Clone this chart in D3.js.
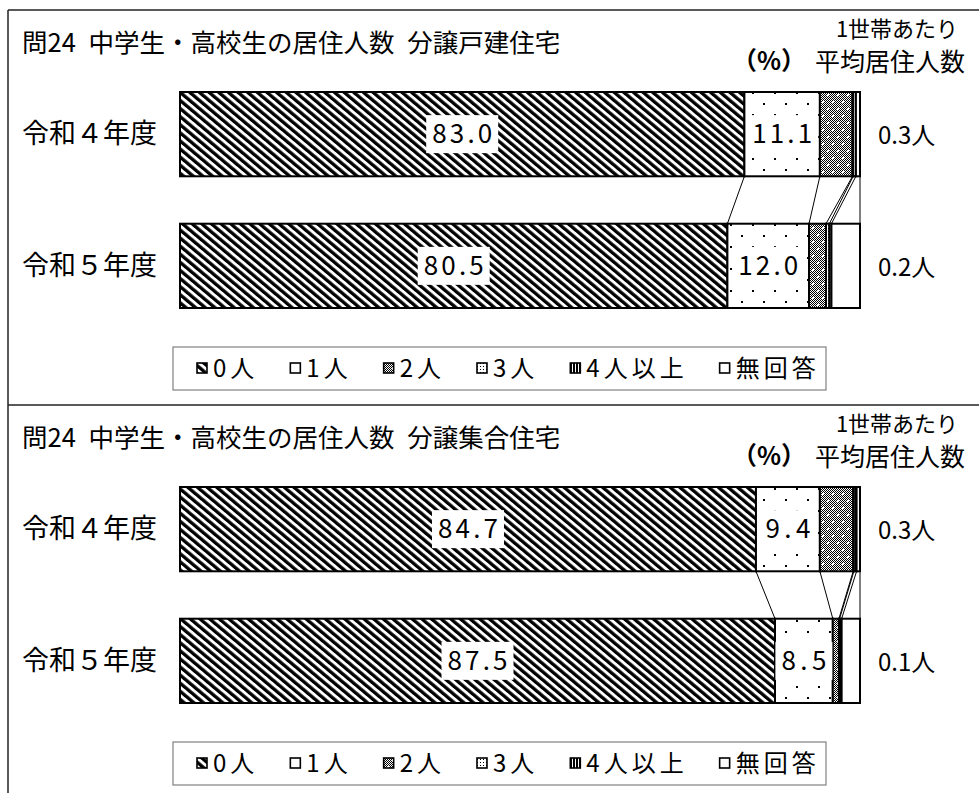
<!DOCTYPE html>
<html><head><meta charset="utf-8">
<script src="https://cdn.jsdelivr.net/npm/d3@7"></script>
<style>
body{margin:0;background:#fff}
svg{display:block}
text{font-family:"Noto Sans CJK JP","Noto Sans",sans-serif;fill:#000}
</style>
</head><body>
<svg id="c" width="979" height="793"></svg>
<script>
// ---- data ----
const categories = ["令和４年度", "令和５年度"];
const seriesNames = ["0人", "1人", "2人", "3人", "4人以上", "無回答"];
const titles = ["問24\u2002中学生・高校生の居住人数\u2002分譲戸建住宅", "問24\u2002中学生・高校生の居住人数\u2002分譲集合住宅"];
const detachedR4 = [83.0, 11.1, 4.8, 0.1, 0.4, 0.6];
const detachedR5 = [80.5, 12.0, 2.5, 0.5, 0.3, 4.2];
const condoR4 = [84.7, 9.4, 4.9, 0.1, 0.4, 0.5];
const condoR5 = [87.5, 8.5, 0.9, 0.1, 0.3, 2.7];
const detachedAvg = ["0.3人", "0.2人"];
const condoAvg = ["0.3人", "0.1人"];
const labelledSeries = [0, 1];

const svg = d3.select("#c");
const defs = svg.append("defs");

// patterns
const pat = (id, w, h, extra) => {
  const p = defs.append("pattern").attr("id", id).attr("patternUnits", "userSpaceOnUse")
    .attr("width", w).attr("height", h);
  if (extra) p.attr("patternTransform", extra);
  return p;
};
let p0 = pat("p0", 6.2, 10, "rotate(-50)");
p0.append("rect").attr("width", 6.2).attr("height", 10).attr("fill", "#fff");
p0.append("rect").attr("width", 3.3).attr("height", 10).attr("fill", "#000");

let p1 = pat("p1", 22, 22);
p1.append("rect").attr("width", 22).attr("height", 22).attr("fill", "#fff");
p1.append("rect").attr("x", 4).attr("y", 4).attr("width", 2).attr("height", 2).attr("fill", "#000");
p1.append("rect").attr("x", 15).attr("y", 15).attr("width", 2).attr("height", 2).attr("fill", "#000");

let chk = pat("chk", 2, 2);
chk.append("rect").attr("width", 2).attr("height", 2).attr("fill", "#fff");
chk.append("rect").attr("width", 1).attr("height", 1).attr("fill", "#000");
chk.append("rect").attr("x", 1).attr("y", 1).attr("width", 1).attr("height", 1).attr("fill", "#000");

let p2 = pat("p2", 10, 14);
p2.append("rect").attr("width", 10).attr("height", 14).attr("fill", "url(#chk)");
p2.append("rect").attr("x", 2).attr("y", 3).attr("width", 2).attr("height", 2).attr("fill", "#fff");
p2.append("rect").attr("x", 7).attr("y", 10).attr("width", 2).attr("height", 2).attr("fill", "#fff");

let p3 = pat("p3", 3, 3);
p3.append("rect").attr("width", 3).attr("height", 3).attr("fill", "#fff");
p3.append("rect").attr("width", 1).attr("height", 1).attr("fill", "#000");

let p4 = pat("p4", 3, 3);
p4.append("rect").attr("width", 3).attr("height", 3).attr("fill", "#fff");
p4.append("rect").attr("width", 2).attr("height", 3).attr("fill", "#000");

const fills = ["url(#p0)", "url(#p1)", "url(#p2)", "url(#p3)", "url(#p4)", "#fff"];

const x = d3.scaleLinear().domain([0, 100]).range([180, 860]);

// panel frame lines
svg.append("line").attr("x1", 8).attr("x2", 979).attr("y1", 10).attr("y2", 10).attr("stroke", "#222").attr("stroke-width", 1.5);
svg.append("line").attr("x1", 8).attr("x2", 8).attr("y1", 10).attr("y2", 793).attr("stroke", "#222").attr("stroke-width", 1.5);
svg.append("line").attr("x1", 8).attr("x2", 979).attr("y1", 405).attr("y2", 405).attr("stroke", "#222").attr("stroke-width", 1.5);

function panel(y0, title, rowsVals, avgs) {
  const g = svg.append("g");
  const rows = categories.map((c, i) => {
    const o = {cat: c};
    seriesNames.forEach((s, j) => o[s] = rowsVals[i][j]);
    return o;
  });
  const stack = d3.stack().keys(seriesNames)(rows);
  const y = d3.scaleBand().domain(categories).range([y0 + 82, y0 + 298]).paddingInner(0.36).paddingOuter(0);

  // title & headers
  g.append("text").attr("x", 22).attr("y", y0 + 42).attr("font-size", 25.5).text(title);
  g.append("text").attr("x", 897).attr("y", y0 + 27).attr("font-size", 22).attr("text-anchor", "middle").text("1世帯あたり");
  g.append("text").attr("x", 890).attr("y", y0 + 61).attr("font-size", 25).attr("text-anchor", "middle").text("平均居住人数");
  g.append("text").attr("x", 769).attr("y", y0 + 60).attr("font-size", 25).attr("font-weight", "bold").attr("text-anchor", "middle").text("（%）");

  // connector lines
  const b0 = y(categories[0]) + y.bandwidth(), b1 = y(categories[1]);
  stack.forEach(layer => {
    g.append("line").attr("x1", x(layer[0][1])).attr("x2", x(layer[1][1]))
      .attr("y1", b0).attr("y2", b1).attr("stroke", "#000").attr("stroke-width", 1);
  });

  // bars
  stack.forEach((layer, j) => {
    g.selectAll(null).data(layer).enter().append("rect")
      .attr("x", d => x(d[0])).attr("width", d => x(d[1]) - x(d[0]))
      .attr("y", d => y(d.data.cat)).attr("height", y.bandwidth())
      .attr("fill", fills[j]).attr("stroke", "#000").attr("stroke-width", 2);
  });

  // data labels
  labelledSeries.forEach(j => {
    stack[j].forEach(d => {
      const cx = (x(d[0]) + x(d[1])) / 2, cy = y(d.data.cat) + y.bandwidth() / 2;
      const lbl = d3.format(".1f")(d[1] - d[0]);
      const tw = 15 * lbl.length;
      g.append("rect").attr("x", cx - tw / 2 - 6).attr("y", cy - 19).attr("width", tw + 12).attr("height", 38).attr("fill", "#fff");
      g.append("text").attr("x", cx).attr("y", cy + 9).attr("font-size", 26).attr("text-anchor", "middle")
        .attr("textLength", tw).attr("lengthAdjust", "spacing").text(lbl);
    });
  });

  // category labels & averages
  categories.forEach((c, i) => {
    const cy = y(c) + y.bandwidth() / 2;
    g.append("text").attr("x", 22).attr("y", cy + 9).attr("font-size", 27).text(c);
    g.append("text").attr("x", 878).attr("y", cy + 10).attr("font-size", 24).text(avgs[i]);
  });

  // legend
  const ly = y0 + 337;
  g.append("rect").attr("x", 173).attr("y", ly).attr("width", 653).attr("height", 43)
    .attr("fill", "#fff").attr("stroke", "#808080").attr("stroke-width", 1.2);
  let lx = 197;
  seriesNames.forEach((s, j) => {
    g.append("rect").attr("x", lx).attr("y", ly + 16).attr("width", 10).attr("height", 10)
      .attr("fill", fills[j]).attr("stroke", "#000").attr("stroke-width", 1.6);
    const t = g.append("text").attr("x", lx + 16).attr("y", ly + 30).attr("font-size", 24)
      .attr("letter-spacing", 4).text(s);
    lx += 16 + t.node().getComputedTextLength() + 32;
  });
}

panel(10, titles[0], [detachedR4, detachedR5], detachedAvg);
panel(405, titles[1], [condoR4, condoR5], condoAvg);
</script>
</body></html>
